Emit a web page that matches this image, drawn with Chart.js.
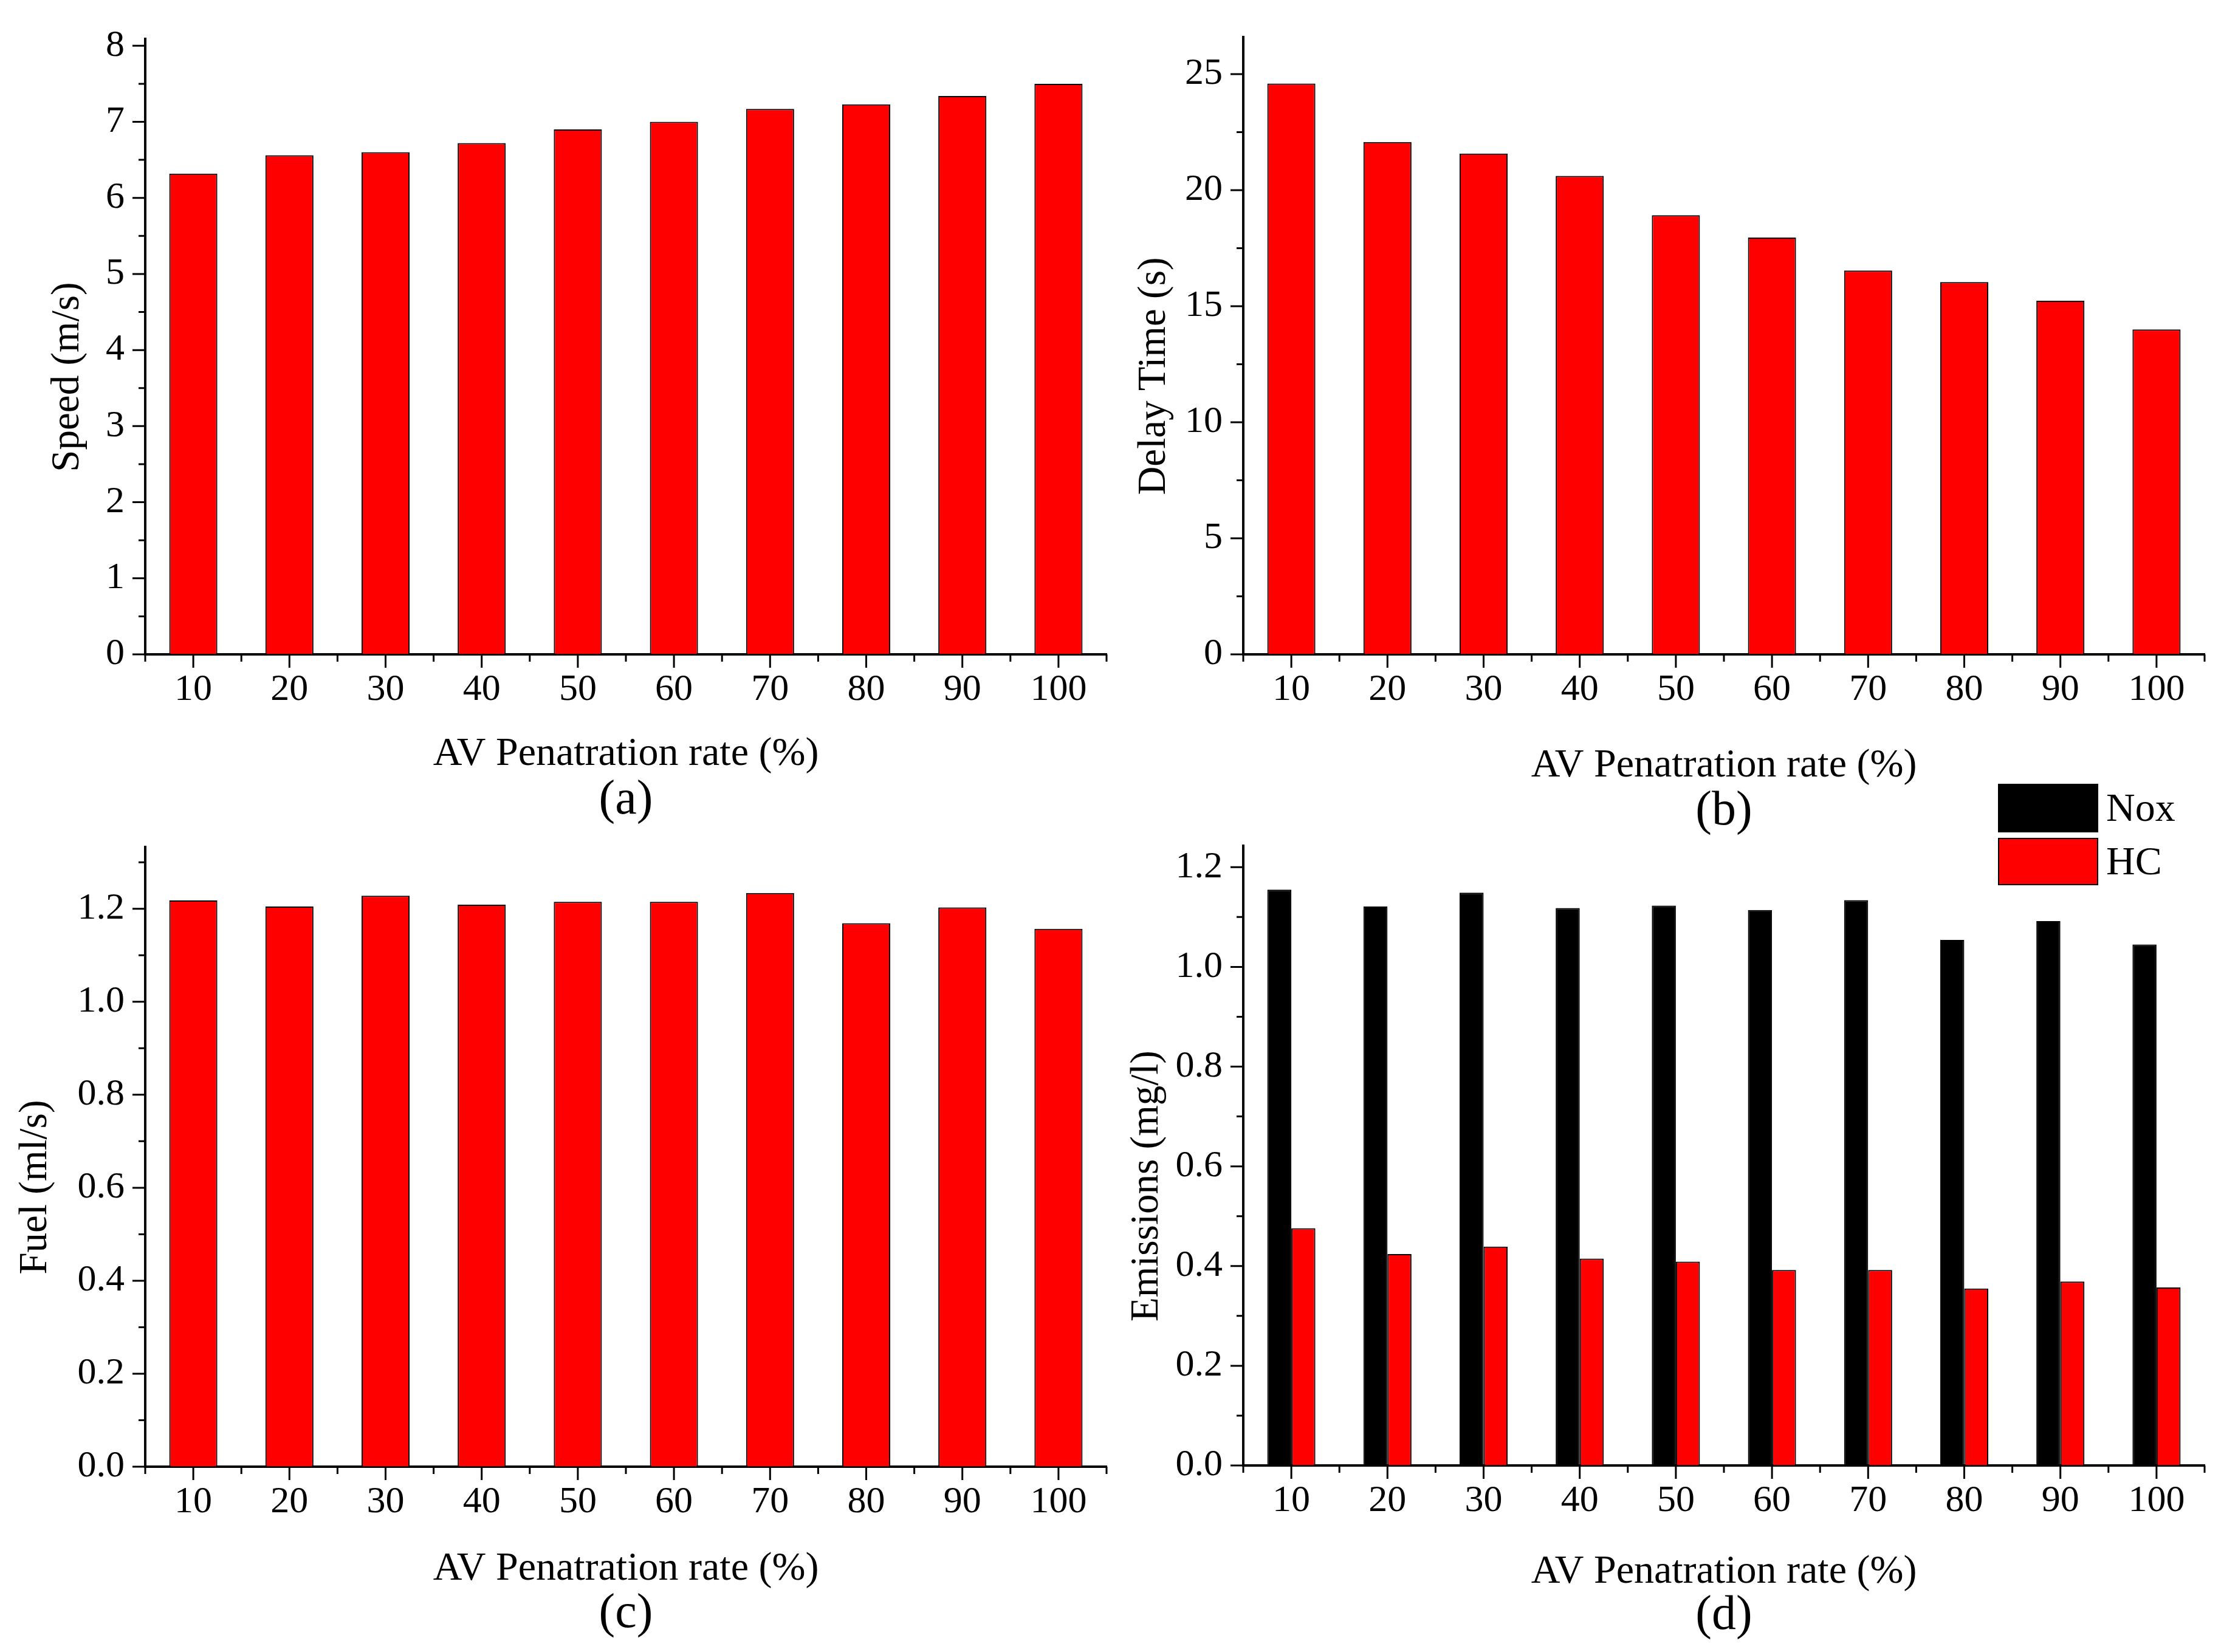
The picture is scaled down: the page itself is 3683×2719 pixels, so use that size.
<!DOCTYPE html>
<html>
<head>
<meta charset="utf-8">
<script src="https://cdn.jsdelivr.net/npm/chart.js@4.4.0/dist/chart.umd.min.js"></script>
<style>
html,body{margin:0;padding:0;background:#fff;}
body{width:3683px;height:2719px;position:relative;overflow:hidden;font-family:"Liberation Serif",serif;}
canvas{position:absolute;}
.lg-box{position:absolute;left:3288px;width:165px;box-sizing:border-box;border:2px solid #000;}
.lg-txt{position:absolute;left:3466px;font-size:66px;line-height:66px;color:#000;}
</style>
</head>
<body>
<canvas id="graf-a"></canvas>
<canvas id="graf-b"></canvas>
<canvas id="graf-c"></canvas>
<canvas id="graf-d"></canvas>
<div class="lg-box" style="top:1290px;height:80px;background:#000;"></div>
<div class="lg-txt" style="top:1296px;">Nox</div>
<div class="lg-box" style="top:1379px;height:78px;background:#ff0000;"></div>
<div class="lg-txt" style="top:1384px;">HC</div>
<script>
// dados
const penetration = ['10','20','30','40','50','60','70','80','90','100'];
const speed = [6.32, 6.56, 6.60, 6.72, 6.90, 7.00, 7.17, 7.23, 7.34, 7.50];
const delay = [24.6, 22.08, 21.58, 20.62, 18.92, 17.96, 16.54, 16.04, 15.24, 14.0];
const fuel = [1.218, 1.205, 1.228, 1.209, 1.215, 1.215, 1.234, 1.169, 1.203, 1.157];
const nox = [1.155, 1.121, 1.149, 1.118, 1.123, 1.114, 1.134, 1.054, 1.092, 1.045];
const hc = [0.476, 0.424, 0.439, 0.415, 0.409, 0.392, 0.392, 0.355, 0.369, 0.357];
const speedTicks = [0, 1, 2, 3, 4, 5, 6, 7, 8];
const delayTicks = [0, 5, 10, 15, 20, 25];
const fuelTicks = [0, 0.2, 0.4, 0.6, 0.8, 1.0, 1.2];
const emisTicks = [0, 0.2, 0.4, 0.6, 0.8, 1.0, 1.2];

const FONT = '"Liberation Serif", "DejaVu Serif", serif';
const XH = 80; // altura fixa do eixo x

// marcas maiores e menores dos eixos (para fora)
const tickPlugin = {
    id: 'marcas',
    afterDraw(chart, args, o) {
        const ctx = chart.ctx, a = chart.chartArea, x = chart.scales.x, y = chart.scales.y;
        ctx.save();
        ctx.strokeStyle = '#000';
        ctx.lineWidth = 3;
        ctx.beginPath();
        const maj = o.majors;
        maj.forEach(v => { const p = y.getPixelForValue(v); ctx.moveTo(a.left, p); ctx.lineTo(a.left - 21, p); });
        for (let i = 0; i < maj.length; i++) {
            const step = maj[1] - maj[0];
            const v = maj[i] + step / 2;
            if (v > y.max) break;
            const p = y.getPixelForValue(v);
            ctx.moveTo(a.left, p); ctx.lineTo(a.left - 11, p);
        }
        const n = chart.data.labels.length;
        for (let i = 0; i < n; i++) { const p = x.getPixelForValue(i); ctx.moveTo(p, a.bottom); ctx.lineTo(p, a.bottom + 22); }
        for (let i = 0; i <= n; i++) { const p = x.getPixelForValue(i - 0.5); ctx.moveTo(p, a.bottom); ctx.lineTo(p, a.bottom + 12); }
        ctx.stroke();
        ctx.restore();
    }
};

// titulos dos eixos e letra do painel
const textPlugin = {
    id: 'textos',
    afterDraw(chart, args, o) {
        const ctx = chart.ctx, a = chart.chartArea;
        const cx = (a.left + a.right) / 2;
        ctx.save();
        ctx.fillStyle = '#000';
        ctx.textAlign = 'center';
        ctx.textBaseline = 'middle';
        ctx.font = '66px ' + FONT;
        ctx.fillText(o.xTitle, cx, a.bottom + o.xDy);
        ctx.font = '80px ' + FONT;
        ctx.fillText(o.letter, cx, a.bottom + o.letterDy);
        ctx.translate(a.left + o.yDx, (a.top + a.bottom) / 2 + 50);
        ctx.rotate(-Math.PI / 2);
        ctx.font = '65px ' + FONT;
        ctx.fillText(o.yTitle, 0, 0);
        ctx.restore();
    }
};

function makeChart(id, box, area, datasets, yTicks, yMax, dec, txt) {
    const cv = document.getElementById(id);
    cv.width = box.w; cv.height = box.h;
    cv.style.left = box.left + 'px'; cv.style.top = box.top + 'px';
    cv.style.width = box.w + 'px'; cv.style.height = box.h + 'px';
    return new Chart(cv.getContext('2d'), {
        type: 'bar',
        data: { labels: penetration, datasets: datasets },
        options: {
            responsive: false,
            animation: false,
            devicePixelRatio: 1,
            layout: { padding: {
                top: area.top - box.top,
                right: box.left + box.w - area.right,
                bottom: box.top + box.h - area.bottom - XH,
                left: 0 } },
            plugins: {
                legend: { display: false },
                tooltip: { enabled: false },
                marcas: { majors: yTicks },
                textos: txt
            },
            datasets: { bar: { categoryPercentage: 0.5, barPercentage: 1 } },
            scales: {
                x: {
                    z: 1,
                    grid: { drawOnChartArea: false, drawTicks: false },
                    border: { color: '#000', width: 4 },
                    ticks: { color: '#000', padding: 22, maxRotation: 0, font: { family: FONT, size: 62 } },
                    afterFit: s => { s.height = XH; }
                },
                y: {
                    z: 1,
                    min: 0, max: yMax,
                    grid: { drawOnChartArea: false, drawTicks: false },
                    border: { color: '#000', width: 4 },
                    afterBuildTicks: s => { s.ticks = yTicks.map(v => ({ value: v })); },
                    ticks: { color: '#000', padding: 34, font: { family: FONT, size: 62 },
                        callback: v => dec ? Number(v).toFixed(dec) : String(v) },
                    afterFit: s => { s.width = area.left - box.left; }
                }
            }
        },
        plugins: [tickPlugin, textPlugin]
    });
}

function redBars(data) {
    return { data: data, backgroundColor: '#ff0000', borderColor: '#000', borderWidth: 2 };
}

const xTitle = 'AV Penatration rate (%)';

// caixas dos canvas com folga acima para o padding das etiquetas do eixo y
makeChart('graf-a', { left: 0, top: -40, w: 1842, h: 1420 }, { left: 239, right: 1821, top: 64, bottom: 1077 },
    [redBars(speed)], speedTicks, 8.09, 0,
    { xTitle: xTitle, letter: '(a)', yTitle: 'Speed (m/s)', xDy: 165, letterDy: 241, yDx: -127 });

makeChart('graf-b', { left: 1842, top: -40, w: 1841, h: 1440 }, { left: 2046, right: 3628, top: 61, bottom: 1077 },
    [redBars(delay)], delayTicks, 26.6, 0,
    { xTitle: xTitle, letter: '(b)', yTitle: 'Delay Time (s)', xDy: 184, letterDy: 259, yDx: -146 });

makeChart('graf-c', { left: 0, top: 1290, w: 1842, h: 1429 }, { left: 239, right: 1821, top: 1394, bottom: 2414 },
    [redBars(fuel)], fuelTicks, 1.333, 1,
    { xTitle: xTitle, letter: '(c)', yTitle: 'Fuel (ml/s)', xDy: 169, letterDy: 243, yDx: -180 });

makeChart('graf-d', { left: 1842, top: 1290, w: 1841, h: 1429 }, { left: 2046, right: 3628, top: 1392, bottom: 2412 },
    [{ label: 'Nox', data: nox, backgroundColor: '#000', borderColor: '#000', borderWidth: 2 },
     { label: 'HC', data: hc, backgroundColor: '#ff0000', borderColor: '#000', borderWidth: 2 }],
    emisTicks, 1.243, 1,
    { xTitle: xTitle, letter: '(d)', yTitle: 'Emissions (mg/l)', xDy: 176, letterDy: 248, yDx: -158 });
</script>
</body>
</html>
